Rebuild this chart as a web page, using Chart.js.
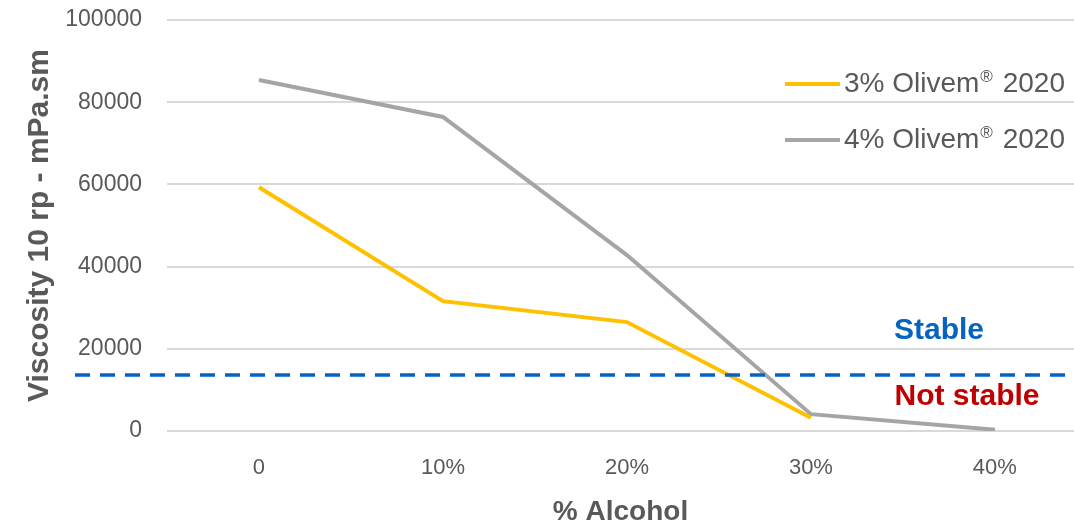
<!DOCTYPE html>
<html>
<head>
<meta charset="utf-8">
<script src="https://cdn.jsdelivr.net/npm/chart.js@4"></script>
<style>
  html, body { margin: 0; padding: 0; background: #fff; overflow: hidden; }
  #wrap { width: 1074px; height: 529px; position: relative; }
</style>
</head>
<body>
<div id="wrap"><canvas id="chart"></canvas></div>
<script>
const categories = ['0', '10%', '20%', '30%', '40%'];
const olivem3 = [59300, 31600, 26500, 3200, null];
const olivem4 = [85400, 76400, 42800, 4100, 300];
const seriesLabels = ['3% Olivem® 2020', '4% Olivem® 2020'];
const yTicks = [0, 20000, 40000, 60000, 80000, 100000];
const stableLimit = 13600;

const grey = '#595959';

function toPoints(values) {
  return values.map((v, i) => ({ x: i, y: v }));
}

// legend drawn inside the plot, with a small raised ®
function drawLabel(ctx, text, x, y, size) {
  const parts = text.split('®');
  ctx.font = `${size}px "Liberation Sans", Arial, sans-serif`;
  ctx.textBaseline = 'middle';
  ctx.textAlign = 'left';
  ctx.fillText(parts[0], x, y);
  let cx = x + ctx.measureText(parts[0]).width;
  if (parts.length > 1) {
    ctx.font = `${Math.round(size * 0.6)}px "Liberation Sans", Arial, sans-serif`;
    ctx.fillText('®', cx + 1, y - size * 0.25);
    cx += ctx.measureText('®').width + 3;
    ctx.font = `${size}px "Liberation Sans", Arial, sans-serif`;
    ctx.fillText(parts[1], cx, y);
  }
}

const overlay = {
  id: 'overlay',
  afterDatasetsDraw(chart) {
    const { ctx, scales } = chart;
    const yLimit = scales.y.getPixelForValue(stableLimit);

    ctx.save();
    ctx.strokeStyle = '#0563C1';
    ctx.lineWidth = 3.5;
    ctx.setLineDash([15, 10]);
    ctx.beginPath();
    ctx.moveTo(75, yLimit);
    ctx.lineTo(chart.width, yLimit);
    ctx.stroke();
    ctx.setLineDash([]);

    ctx.font = 'bold 30px "Liberation Sans", Arial, sans-serif';
    ctx.textAlign = 'center';
    ctx.textBaseline = 'middle';
    ctx.fillStyle = '#0563C1';
    ctx.fillText('Stable', 939, yLimit - 44);
    ctx.fillStyle = '#C00000';
    ctx.fillText('Not stable', 967, yLimit + 22);

    chart.data.datasets.forEach((ds, i) => {
      const y = 84 + i * 56;
      ctx.strokeStyle = ds.borderColor;
      ctx.lineWidth = 4;
      ctx.beginPath();
      ctx.moveTo(785, y);
      ctx.lineTo(840, y);
      ctx.stroke();
      ctx.fillStyle = grey;
      drawLabel(ctx, ds.label, 844, y, 28);
    });
    ctx.restore();
  }
};

new Chart(document.getElementById('chart'), {
  type: 'line',
  data: {
    datasets: [
      {
        label: seriesLabels[0],
        data: toPoints(olivem3),
        borderColor: '#FFC000',
        borderWidth: 4,
        pointRadius: 0,
        tension: 0
      },
      {
        label: seriesLabels[1],
        data: toPoints(olivem4),
        borderColor: '#A5A5A5',
        borderWidth: 4,
        pointRadius: 0,
        tension: 0
      }
    ]
  },
  options: {
    responsive: true,
    maintainAspectRatio: false,
    animation: false,
    layout: { padding: { top: 20, right: 0, left: 0, bottom: 0 } },
    plugins: {
      legend: { display: false },
      tooltip: { enabled: false }
    },
    scales: {
      x: {
        type: 'linear',
        min: -0.5,
        max: 4.43,
        afterBuildTicks: scale => {
          scale.ticks = categories.map((c, i) => ({ value: i }));
        },
        afterFit: scale => { scale.height = 98; },
        grid: { display: false, drawTicks: false },
        border: { display: false },
        ticks: {
          padding: 24,
          color: grey,
          font: { family: '"Liberation Sans", Arial, sans-serif', size: 22 },
          callback: v => categories[v]
        },
        title: {
          display: true,
          text: '% Alcohol',
          color: grey,
          padding: 0,
          font: { family: '"Liberation Sans", Arial, sans-serif', size: 28, weight: 'bold' }
        }
      },
      y: {
        min: 0,
        max: 100000,
        afterBuildTicks: scale => {
          scale.ticks = yTicks.map(v => ({ value: v }));
        },
        afterFit: scale => { scale.width = 167; },
        grid: { color: '#D9D9D9', lineWidth: 2, drawTicks: true, tickLength: 25, tickColor: 'rgba(0,0,0,0)' },
        border: { display: false },
        ticks: {
          padding: 0,
          color: grey,
          font: { family: '"Liberation Sans", Arial, sans-serif', size: 23 },
          callback: v => String(v)
        },
        title: {
          display: true,
          text: 'Viscosity 10 rp - mPa.sm',
          color: grey,
          padding: { top: 22, bottom: 0 },
          font: { family: '"Liberation Sans", Arial, sans-serif', size: 30, weight: 'bold' }
        }
      }
    }
  },
  plugins: [overlay]
});
</script>
</body>
</html>
